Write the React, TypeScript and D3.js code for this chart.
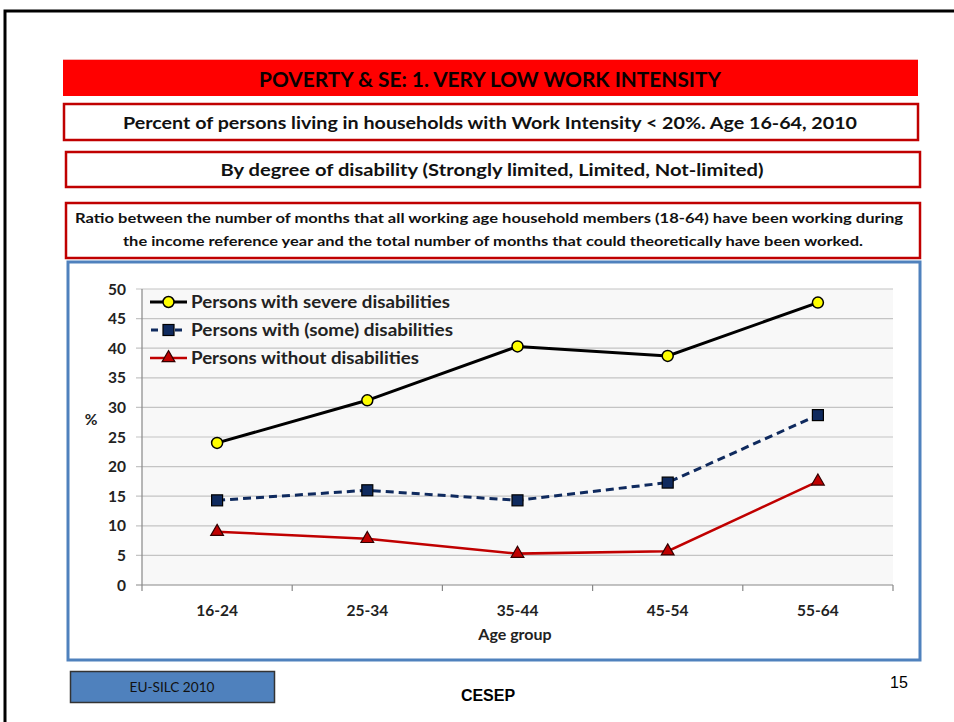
import React from "react";
import * as d3 from "d3";

const categories = ["16-24", "25-34", "35-44", "45-54", "55-64"];
const severe = [24.0, 31.2, 40.3, 38.7, 47.7];
const some = [14.3, 16.0, 14.3, 17.3, 28.7];
const without = [9.0, 7.8, 5.3, 5.7, 17.5];
const yTicks = [0, 5, 10, 15, 20, 25, 30, 35, 40, 45, 50];
const seriesNames = [
  "Persons with severe disabilities",
  "Persons with (some) disabilities",
  "Persons without disabilities",
];
const legendWidths = [259, 262, 228];

const FONT = "Lato, 'Open Sans', sans-serif";

export default function App() {
  const left = 142, right = 893, top = 289, bottom = 585;
  const x = d3.scaleBand<string>().domain(categories).range([left, right]);
  const y = d3.scaleLinear().domain([0, 50]).range([bottom, top]);
  const cx = (c: string) => (x(c) as number) + x.bandwidth() / 2;
  const line = d3
    .line<number>()
    .x((_, i) => cx(categories[i]))
    .y((d) => y(d));
  const tri = d3.symbol().type(d3.symbolTriangle).size(70)();
  const boundaries = [...categories.map((c) => x(c) as number), right];

  return (
    <svg
      width={954}
      height={722}
      style={{ position: "absolute", left: 0, top: 0, background: "#fff" }}
    >
      {/* slide frame */}
      <path d="M5,722 L5,11 L954,11" fill="none" stroke="#000" strokeWidth={3} />

      {/* header boxes */}
      <line x1={63} x2={918} y1={59.5} y2={59.5} stroke="#f4b4b4" strokeWidth={1} />
      <rect x={63} y={60} width={855} height={36} fill="#ff0000" />
      <text x={490} y={86.5} textAnchor="middle" fontFamily={FONT} fontWeight="bold" fontSize={20} fill="#0a0000" textLength={462} lengthAdjust="spacingAndGlyphs">
        POVERTY &amp; SE: 1. VERY LOW WORK INTENSITY
      </text>

      <rect x={64} y={104} width={854} height={36} fill="#fff" stroke="#c00000" strokeWidth={2.5} />
      <text x={490} y={128.5} textAnchor="middle" fontFamily={FONT} fontWeight="bold" fontSize={17.5} fill="#111" textLength={734} lengthAdjust="spacingAndGlyphs">
        Percent of persons living in households with Work Intensity &lt; 20%. Age 16-64, 2010
      </text>

      <rect x={66} y={152} width={854} height={35} fill="#fff" stroke="#c00000" strokeWidth={2.5} />
      <text x={492} y={176} textAnchor="middle" fontFamily={FONT} fontWeight="bold" fontSize={17.5} fill="#111" textLength={543} lengthAdjust="spacingAndGlyphs">
        By degree of disability (Strongly limited, Limited, Not-limited)
      </text>

      <rect x={66} y={203} width={854} height={55} fill="#fff" stroke="#c00000" strokeWidth={2.5} />
      <text x={489} y={223} textAnchor="middle" fontFamily={FONT} fontWeight="bold" fontSize={13.5} fill="#111" textLength={828} lengthAdjust="spacingAndGlyphs">
        Ratio between the number of months that all working age household members (18-64) have been working during
      </text>
      <text x={493} y={246} textAnchor="middle" fontFamily={FONT} fontWeight="bold" fontSize={13.5} fill="#111" textLength={740} lengthAdjust="spacingAndGlyphs">
        the income reference year and the total number of months that could theoretically have been worked.
      </text>

      {/* chart frame */}
      <rect x={68} y={262} width={852} height={398} fill="#fff" stroke="#4f81bd" strokeWidth={3} />

      {/* plot area */}
      <rect x={left} y={top} width={right - left} height={bottom - top} fill="#f8f8f8" />
      {yTicks.map((t) => (
        <g key={t}>
          <line x1={left - 6} x2={right} y1={y(t)} y2={y(t)} stroke={t === 0 ? "#888" : "#c4c4c4"} strokeWidth={1.2} />
          <text x={126} y={y(t) + 5.5} textAnchor="end" fontFamily={FONT} fontWeight="bold" fontSize={15.5} fill="#222">
            {t}
          </text>
        </g>
      ))}
      <line x1={left} x2={left} y1={top} y2={bottom} stroke="#888" strokeWidth={1.2} />
      {boundaries.map((b, i) => (
        <line key={i} x1={b} x2={b} y1={bottom} y2={bottom + 6} stroke="#888" strokeWidth={1.2} />
      ))}
      {categories.map((c) => (
        <text key={c} x={cx(c)} y={615.5} textAnchor="middle" fontFamily={FONT} fontWeight="bold" fontSize={15.5} fill="#222">
          {c}
        </text>
      ))}
      <text x={515} y={640} textAnchor="middle" fontFamily={FONT} fontWeight="bold" fontSize={16} fill="#222">
        Age group
      </text>
      <text x={91} y={425} textAnchor="middle" fontFamily={FONT} fontWeight="bold" fontSize={15.5} fill="#222">
        %
      </text>

      {/* series lines */}
      <path d={line(without) as string} fill="none" stroke="#c00000" strokeWidth={2.5} />
      <path d={line(some) as string} fill="none" stroke="#0f2a5e" strokeWidth={3} strokeDasharray="8,5" />
      <path d={line(severe) as string} fill="none" stroke="#000" strokeWidth={3} />

      {/* markers */}
      {without.map((v, i) => (
        <path key={"w" + i} d={tri as string} transform={`translate(${cx(categories[i])},${y(v)})`} fill="#c00000" stroke="#300" strokeWidth={1.2} />
      ))}
      {some.map((v, i) => (
        <rect key={"s" + i} x={cx(categories[i]) - 5.5} y={y(v) - 5.5} width={11} height={11} fill="#0f2a5e" stroke="#000" strokeWidth={1.2} />
      ))}
      {severe.map((v, i) => (
        <circle key={"v" + i} cx={cx(categories[i])} cy={y(v)} r={5.5} fill="#ffff00" stroke="#000" strokeWidth={1.5} />
      ))}

      {/* legend */}
      {seriesNames.map((n, i) => {
        const ly = 302 + i * 28;
        return (
          <g key={n}>
            {i === 0 && (
              <>
                <line x1={150} x2={187} y1={ly} y2={ly} stroke="#000" strokeWidth={3} />
                <circle cx={168.5} cy={ly} r={5.5} fill="#ffff00" stroke="#000" strokeWidth={1.5} />
              </>
            )}
            {i === 1 && (
              <>
                <line x1={150} x2={187} y1={ly} y2={ly} stroke="#0f2a5e" strokeWidth={3} strokeDasharray="7,5" strokeDashoffset={-1} />
                <rect x={163} y={ly - 5.5} width={11} height={11} fill="#0f2a5e" stroke="#000" strokeWidth={1.2} />
              </>
            )}
            {i === 2 && (
              <>
                <line x1={150} x2={187} y1={ly} y2={ly} stroke="#c00000" strokeWidth={2.5} />
                <path d={tri as string} transform={`translate(168.5,${ly})`} fill="#c00000" stroke="#300" strokeWidth={1.2} />
              </>
            )}
            <text x={191} y={ly + 6} fontFamily={FONT} fontWeight="bold" fontSize={16.5} fill="#222" textLength={legendWidths[i]} lengthAdjust="spacingAndGlyphs">
              {n}
            </text>
          </g>
        );
      })}

      {/* footer */}
      <rect x={70.5} y={671.5} width={204} height={31} fill="#4f81bd" stroke="#333" strokeWidth={1.5} />
      <text x={172} y={692} textAnchor="middle" fontFamily={FONT} fontSize={14} fill="#111" textLength={85} lengthAdjust="spacingAndGlyphs">
        EU-SILC 2010
      </text>
      <text x={488} y={701} textAnchor="middle" fontFamily="'Liberation Sans', Arial, sans-serif" fontWeight="bold" fontSize={16} fill="#000">
        CESEP
      </text>
      <text x={899} y={688} textAnchor="middle" fontFamily="'Liberation Sans', Arial, sans-serif" fontSize={16} fill="#000">
        15
      </text>
    </svg>
  );
}
